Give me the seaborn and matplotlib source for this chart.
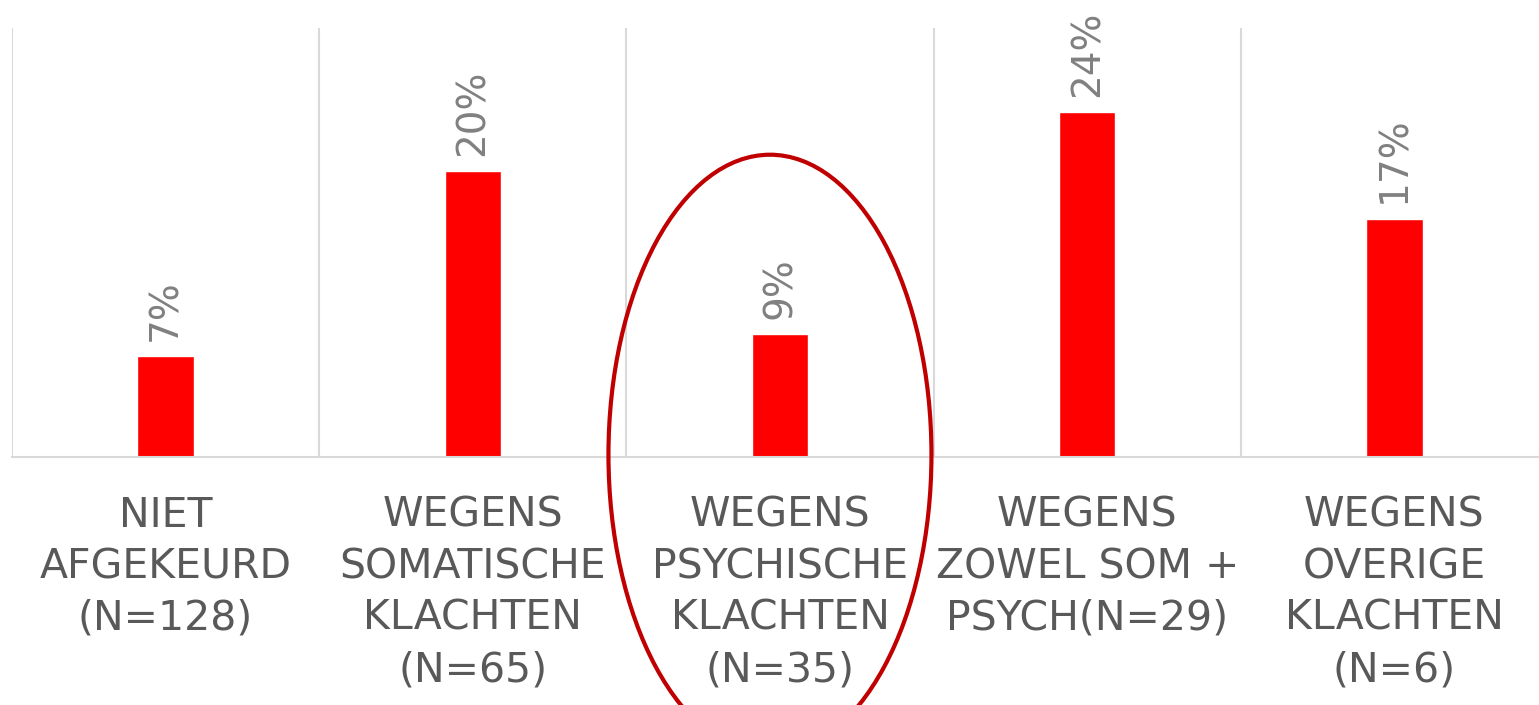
import matplotlib
matplotlib.use("Agg")
import matplotlib.pyplot as plt
import seaborn as sns
import pandas as pd
from matplotlib.patches import Ellipse

categories = [
    "NIET\nAFGEKEURD\n(N=128)",
    "WEGENS\nSOMATISCHE\nKLACHTEN\n(N=65)",
    "WEGENS\nPSYCHISCHE\nKLACHTEN\n(N=35)",
    "WEGENS\nZOWEL SOM +\nPSYCH(N=29)",
    "WEGENS\nOVERIGE\nKLACHTEN\n(N=6)",
]
values = [7.03, 20.0, 8.57, 24.14, 16.67]
value_labels = ["7%", "20%", "9%", "24%", "17%"]

sns.set_theme(style="white")
plt.rcParams["font.family"] = ["DejaVu Sans"]

df = pd.DataFrame({"cat": categories, "val": values})

fig = plt.figure(figsize=(15.39, 7.05), dpi=100)
ax = fig.add_axes([12 / 1539, 248 / 705, 1536 / 1539, 429 / 705])

sns.barplot(data=df, x="cat", y="val", color="#FF0000", width=0.183,
            saturation=1, ax=ax)

ax.set_xlim(-0.5, 4.5)
ax.set_ylim(0, 30)
ax.set_xlabel("")
ax.set_ylabel("")
ax.set_yticks([])
for s in ["top", "right", "left"]:
    ax.spines[s].set_visible(False)
ax.spines["bottom"].set_color("#D9D9D9")
ax.spines["bottom"].set_linewidth(1.5)

# category separators
for xb in [-0.5, 0.5, 1.5, 2.5, 3.5, 4.5]:
    ax.axvline(xb, color="#D9D9D9", lw=1.5, zorder=0)

ax.tick_params(axis="x", length=0, pad=28)
for lab in ax.get_xticklabels():
    lab.set_fontsize(29.5)
    lab.set_color("#595959")
    lab.set_linespacing(1.37)
    lab.set_multialignment("center")

for i, (v, t) in enumerate(zip(values, value_labels)):
    ax.annotate(t, xy=(i, v), xytext=(0, 11), textcoords="offset points",
                rotation=90, ha="center", va="bottom", fontsize=28,
                color="#808080")

# highlight ellipse around third category
ell = Ellipse((0.5003, 0.355), width=323 / 1539, height=600 / 705,
              transform=fig.transFigure, fill=False, edgecolor="#C00000",
              linewidth=3, clip_on=False)
fig.add_artist(ell)

fig.savefig("out.png", dpi=100)
